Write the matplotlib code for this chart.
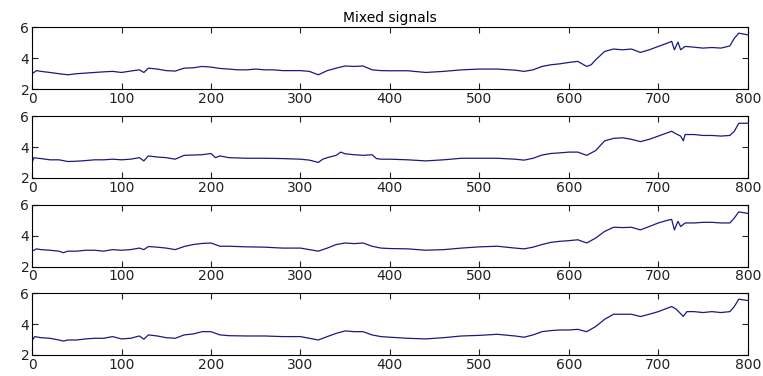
import matplotlib
matplotlib.use('Agg')
import matplotlib.pyplot as plt
import numpy as np

t1 = [0, 5, 10, 20, 30, 40, 50, 60, 70, 80, 90, 100, 110, 120, 125, 130, 140, 150, 160, 170,
      180, 190, 200, 210, 220, 230, 240, 250, 260, 270, 280, 290, 300, 310, 320, 330, 340, 350,
      360, 370, 380, 390, 400, 420, 440, 460, 480, 500, 520, 540, 550, 560, 570, 580, 590, 600,
      610, 620, 625, 630, 640, 650, 660, 670, 680, 690, 700, 710, 715, 718, 722, 725, 730, 740,
      750, 760, 770, 780, 785, 790, 800]
s1 = [3.0, 3.2, 3.15, 3.08, 3.0, 2.93, 3.0, 3.04, 3.08, 3.12, 3.15, 3.08, 3.17, 3.25, 3.08, 3.36,
      3.3, 3.2, 3.17, 3.36, 3.38, 3.47, 3.43, 3.34, 3.3, 3.25, 3.25, 3.3, 3.25, 3.25, 3.2, 3.2,
      3.2, 3.15, 2.93, 3.2, 3.36, 3.5, 3.47, 3.5, 3.25, 3.2, 3.19, 3.19, 3.08, 3.15, 3.25, 3.3,
      3.3, 3.23, 3.15, 3.25, 3.47, 3.58, 3.64, 3.73, 3.8, 3.47, 3.58, 3.9, 4.44, 4.6, 4.55, 4.6,
      4.38, 4.55, 4.77, 4.98, 5.1, 4.55, 5.05, 4.55, 4.77, 4.72, 4.66, 4.7, 4.66, 4.8, 5.3, 5.63,
      5.52]

t2 = [0, 2, 10, 20, 30, 40, 50, 60, 70, 80, 90, 100, 110, 120, 125, 130, 140, 150, 160, 170,
      180, 190, 200, 205, 210, 220, 240, 260, 280, 300, 310, 320, 325, 330, 340, 345, 350, 360,
      370, 380, 385, 390, 400, 420, 440, 460, 480, 500, 520, 540, 550, 560, 570, 580, 590, 600,
      610, 620, 630, 640, 650, 660, 670, 680, 690, 700, 710, 715, 720, 725, 728, 730, 740, 750,
      760, 770, 780, 785, 790, 800]
s2 = [3.0, 3.3, 3.25, 3.17, 3.17, 3.06, 3.08, 3.12, 3.17, 3.17, 3.21, 3.17, 3.21, 3.31, 3.1,
      3.42, 3.35, 3.31, 3.21, 3.46, 3.48, 3.5, 3.58, 3.31, 3.42, 3.31, 3.27, 3.27, 3.25, 3.21,
      3.15, 3.0, 3.21, 3.31, 3.46, 3.67, 3.56, 3.5, 3.46, 3.5, 3.25, 3.21, 3.21, 3.17, 3.1, 3.17,
      3.27, 3.27, 3.27, 3.21, 3.15, 3.27, 3.48, 3.58, 3.62, 3.67, 3.67, 3.46, 3.77, 4.4, 4.56,
      4.6, 4.5, 4.35, 4.5, 4.71, 4.92, 5.02, 4.85, 4.71, 4.4, 4.81, 4.81, 4.75, 4.75, 4.71, 4.75,
      5.02, 5.54, 5.54]

t3 = [0, 5, 10, 20, 30, 35, 40, 50, 60, 70, 80, 90, 100, 110, 120, 125, 130, 140, 150, 160,
      170, 180, 190, 200, 210, 220, 240, 260, 280, 300, 310, 320, 330, 340, 350, 360, 370, 380,
      390, 400, 420, 440, 460, 480, 500, 520, 540, 550, 560, 570, 580, 590, 600, 610, 620, 630,
      640, 650, 660, 670, 680, 690, 700, 710, 715, 718, 722, 725, 730, 740, 750, 760, 770, 780,
      785, 790, 800]
s3 = [3.0, 3.15, 3.1, 3.06, 3.0, 2.9, 3.0, 3.0, 3.06, 3.06, 3.0, 3.1, 3.06, 3.1, 3.2, 3.1, 3.3,
      3.26, 3.2, 3.1, 3.3, 3.43, 3.5, 3.53, 3.32, 3.32, 3.28, 3.26, 3.2, 3.2, 3.1, 3.0, 3.2, 3.43,
      3.53, 3.49, 3.53, 3.32, 3.2, 3.17, 3.15, 3.06, 3.1, 3.2, 3.28, 3.32, 3.2, 3.15, 3.26, 3.43,
      3.57, 3.64, 3.68, 3.74, 3.53, 3.85, 4.28, 4.55, 4.53, 4.55, 4.38, 4.6, 4.83, 5.0, 5.06,
      4.38, 4.94, 4.6, 4.83, 4.83, 4.87, 4.87, 4.83, 4.83, 5.15, 5.55, 5.45]

t4 = [0, 3, 10, 20, 30, 35, 40, 50, 60, 70, 80, 90, 100, 110, 120, 125, 130, 140, 150, 160,
      170, 180, 190, 200, 210, 220, 240, 260, 280, 300, 310, 320, 330, 340, 350, 360, 370, 380,
      390, 400, 420, 440, 460, 480, 500, 520, 540, 550, 560, 570, 580, 590, 600, 610, 620, 630,
      640, 650, 660, 670, 680, 690, 700, 710, 715, 720, 728, 732, 740, 750, 760, 770, 780, 785,
      790, 800]
s4 = [2.93, 3.19, 3.12, 3.08, 2.97, 2.9, 2.97, 2.97, 3.04, 3.08, 3.08, 3.19, 3.04, 3.08, 3.23,
      3.02, 3.3, 3.23, 3.12, 3.08, 3.3, 3.36, 3.51, 3.51, 3.3, 3.25, 3.23, 3.23, 3.19, 3.19,
      3.08, 2.97, 3.19, 3.4, 3.56, 3.51, 3.51, 3.3, 3.19, 3.15, 3.08, 3.04, 3.12, 3.23, 3.27,
      3.34, 3.23, 3.15, 3.3, 3.51, 3.58, 3.62, 3.62, 3.66, 3.51, 3.84, 4.31, 4.64, 4.64, 4.64,
      4.49, 4.64, 4.81, 5.03, 5.14, 4.97, 4.5, 4.81, 4.81, 4.75, 4.81, 4.75, 4.81, 5.14, 5.62,
      5.53]

signals = [(t1, s1), (t2, s2), (t3, s3), (t4, s4)]

plt.rcParams['font.family'] = ['DejaVu Sans']
fig = plt.figure(figsize=(7.63, 3.76), dpi=100)
fig.patch.set_facecolor('white')

bottoms = [0.763, 0.527, 0.291, 0.056]
for i, (t, s) in enumerate(signals):
    ax = fig.add_axes([0.042, bottoms[i], 0.938, 0.164])
    ax.plot(t, s, color='#1a1a80', linewidth=0.9)
    ax.set_xlim(0, 800)
    ax.set_ylim(2, 6)
    ax.set_xticks(np.arange(0, 801, 100))
    ax.set_yticks([2, 4, 6])
    ax.tick_params(direction='in', top=True, right=True, length=4, width=0.8,
                   labelsize=10, pad=2, colors='#222222')
    for sp in ax.spines.values():
        sp.set_linewidth(0.8)
    if i == 0:
        ax.set_title('Mixed signals', fontsize=10, pad=4)

fig.savefig('out.png', dpi=100)
